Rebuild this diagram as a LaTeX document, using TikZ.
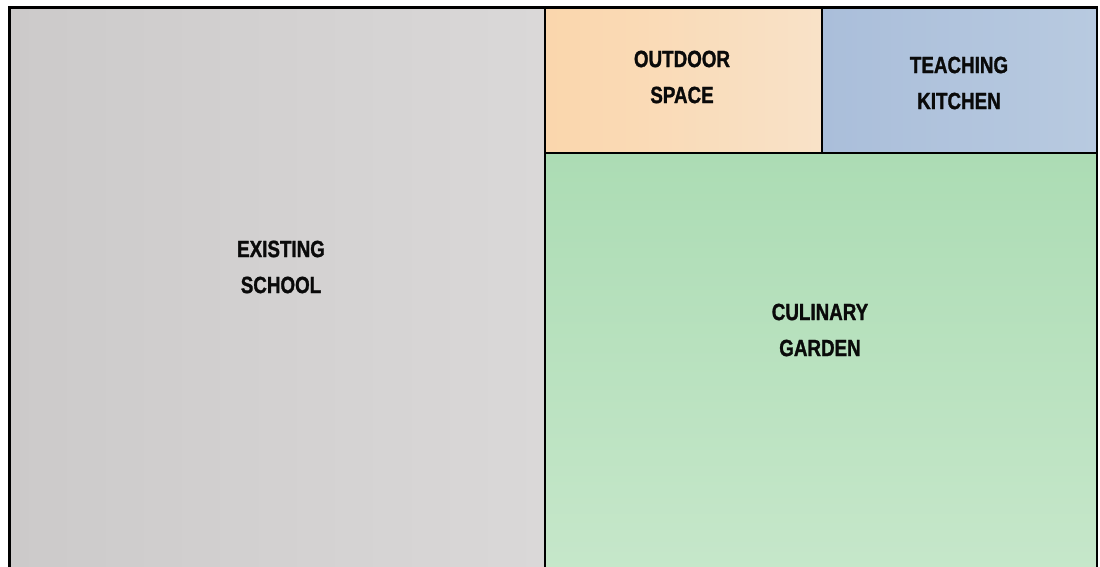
\documentclass[tikz,border=0pt]{standalone}
\usepackage{fontspec}
\usepackage{xcolor}
\usepackage{tikz}
\usetikzlibrary{positioning}
\newfontfamily\zonefont[FakeStretch=0.8,FakeBold=1.2]{Liberation Sans}
\definecolor{schoolGray}{RGB}{204,202,202}
\definecolor{schoolGrayLight}{RGB}{218,216,216}
\definecolor{outdoorPeach}{RGB}{250,214,172}
\definecolor{outdoorPeachLight}{RGB}{249,226,200}
\definecolor{kitchenBlue}{RGB}{170,190,218}
\definecolor{kitchenBlueLight}{RGB}{184,202,224}
\definecolor{gardenGreen}{RGB}{172,220,180}
\definecolor{gardenGreenLight}{RGB}{198,231,202}
\definecolor{zoneText}{RGB}{10,10,10}

\begin{document}
\begin{tikzpicture}[x=1pt,y=-1pt]
\tikzset{
  zone/.style={line width=2.7pt, draw=black},
  zonelabel/.style={text=zoneText, font=\zonefont\bfseries\fontsize{23.5}{36}\selectfont,
    align=center, inner sep=0pt}
}
\useasboundingbox (0,0) rectangle (1100,566);
% panels
\shade[left color=schoolGray, right color=schoolGrayLight] (9.5,7.5) rectangle (545,570);
\shade[left color=outdoorPeach, right color=outdoorPeachLight] (545,7.5) rectangle (822,153);
\shade[left color=kitchenBlue, right color=kitchenBlueLight] (822,7.5) rectangle (1097,153);
\shade[top color=gardenGreen, bottom color=gardenGreenLight] (545,153) rectangle (1097,570);
% frame
\draw[zone] (9.5,570) -- (9.5,7.5) -- (1097,7.5) -- (1097,570);
\draw[zone] (545,7.5) -- (545,570);
\draw[zone] (545,153) -- (1097,153);
\draw[zone] (822,7.5) -- (822,153);
% labels
\node[zonelabel] (school) at (281,267) {EXISTING\\SCHOOL};
\node[zonelabel] (outdoor) at (682,77) {OUTDOOR\\SPACE};
\node[zonelabel] (kitchen) at (959,83) {TEACHING\\KITCHEN};
\node[zonelabel] (garden) at (820,330) {CULINARY\\GARDEN};
\end{tikzpicture}
\end{document}
